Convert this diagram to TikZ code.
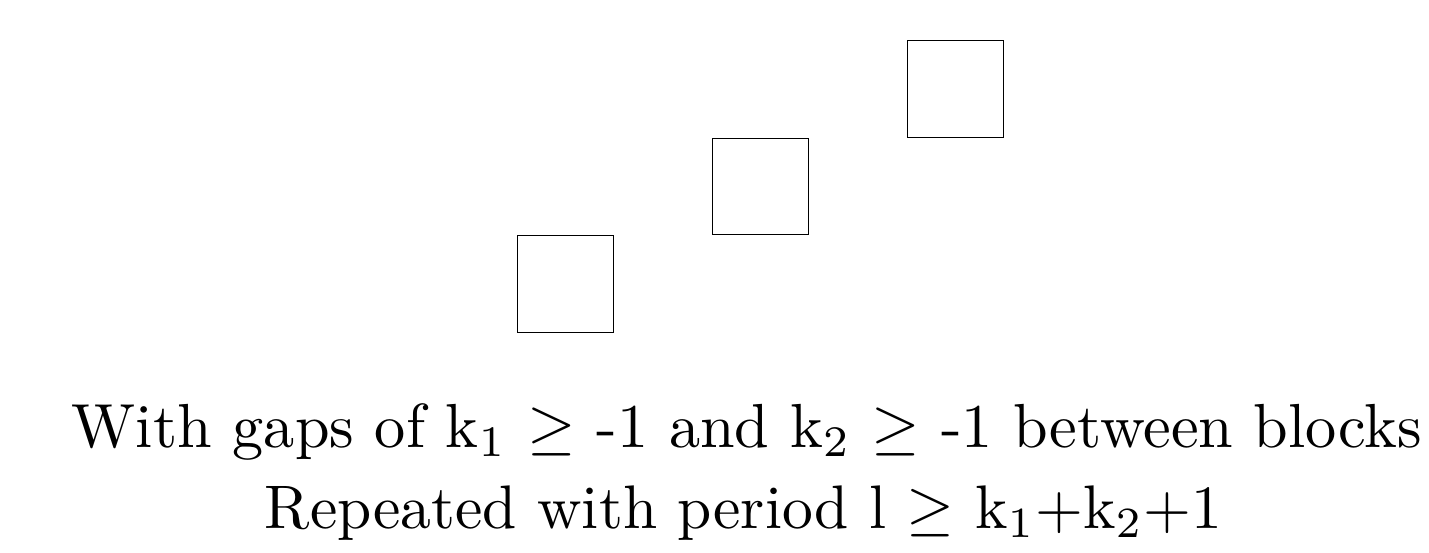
\documentclass[tikz,border=0pt]{standalone}
\begin{document}
\begin{tikzpicture}[x=0.5pt,y=-0.5pt,
  block/.style={draw=black,line width=0.5pt,minimum width=48.25pt,minimum height=48.25pt,inner sep=0pt,outer sep=0pt},
  caption/.style={anchor=base,inner sep=0pt,font=\normalsize}]
\useasboundingbox (0,0) rectangle (1429,552);
\node[block] (s1) at (565.7,284.0) {};
\node[block] (s2) at (760.7,186.5) {};
\node[block] (s3) at (955.7,89.0) {};
\node[caption] (t1) at (747,447) {\resizebox{675pt}{!}{With gaps of k$_1$ $\geq$ -1 and k$_2$ $\geq$ -1 between blocks}};
\node[caption] (t2) at (743.5,528) {\resizebox{478.5pt}{!}{Repeated with period l $\geq$ k$_1$+k$_2$+1}};
\end{tikzpicture}
\end{document}
